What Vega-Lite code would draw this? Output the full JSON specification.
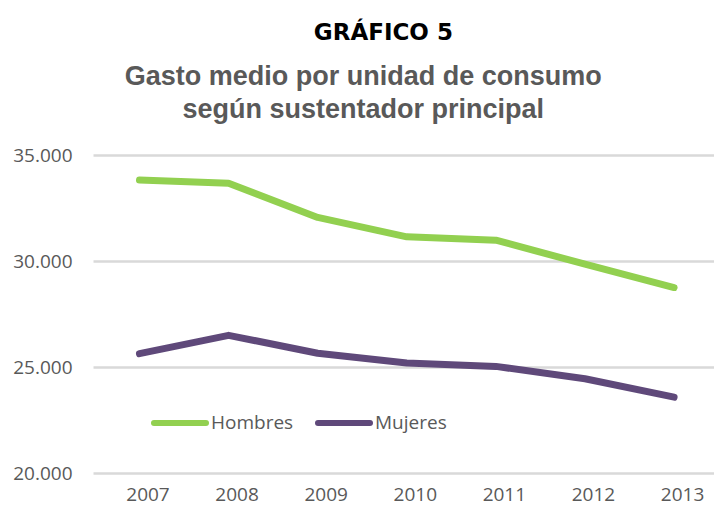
{
  "$schema": "https://vega.github.io/schema/vega-lite/v6.json",
  "padding": {"left": 12, "top": 22, "right": 0, "bottom": 0},
  "background": "white",
  "title": {
    "text": "GRÁFICO 5",
    "font": "DejaVu Sans",
    "fontSize": 23,
    "fontWeight": "bold",
    "color": "#000000",
    "anchor": "middle",
    "dx": 20,
    "offset": 18
  },
  "vconcat": [
    {
      "width": 621,
      "height": 318,
      "title": {
        "text": ["Gasto medio por unidad de consumo", "según sustentador principal"],
        "font": "Liberation Sans",
        "fontSize": 27,
        "fontWeight": "bold",
        "color": "#595959",
        "lineHeight": 33,
        "anchor": "middle",
        "frame": "bounds",
        "offset": 22
      },
      "data": {
        "values": [
          {"year": "2007", "serie": "Hombres", "gasto": 33818},
          {"year": "2008", "serie": "Hombres", "gasto": 33663},
          {"year": "2009", "serie": "Hombres", "gasto": 32056},
          {"year": "2010", "serie": "Hombres", "gasto": 31139},
          {"year": "2011", "serie": "Hombres", "gasto": 30983},
          {"year": "2012", "serie": "Hombres", "gasto": 29850},
          {"year": "2013", "serie": "Hombres", "gasto": 28748},
          {"year": "2007", "serie": "Mujeres", "gasto": 25628},
          {"year": "2008", "serie": "Mujeres", "gasto": 26493},
          {"year": "2009", "serie": "Mujeres", "gasto": 25650},
          {"year": "2010", "serie": "Mujeres", "gasto": 25184},
          {"year": "2011", "serie": "Mujeres", "gasto": 25028},
          {"year": "2012", "serie": "Mujeres", "gasto": 24447},
          {"year": "2013", "serie": "Mujeres", "gasto": 23577}
        ]
      },
      "mark": {"type": "line", "strokeWidth": 7, "strokeCap": "round", "strokeJoin": "round"},
      "encoding": {
        "x": {
          "field": "year",
          "type": "ordinal",
          "scale": {"type": "point", "padding": 0.485, "align": 0.538},
          "axis": {
            "title": null,
            "labelAngle": 0,
            "domain": false,
            "ticks": false,
            "grid": false,
            "labelPadding": 12,
            "labelOffset": 8,
            "labelFont": "Open Sans",
            "labelFontSize": 19,
            "labelColor": "#595959"
          }
        },
        "y": {
          "field": "gasto",
          "type": "quantitative",
          "scale": {"domain": [20000, 35000], "nice": false, "zero": false},
          "axis": {
            "title": null,
            "values": [20000, 25000, 30000, 35000],
            "labelExpr": "replace(format(datum.value, ',d'), ',', '.')",
            "domain": false,
            "ticks": false,
            "grid": true,
            "gridColor": "#D9D9D9",
            "gridWidth": 2.5,
            "labelPadding": 21,
            "labelFont": "Open Sans",
            "labelFontSize": 19,
            "labelColor": "#595959"
          }
        },
        "color": {
          "field": "serie",
          "type": "nominal",
          "scale": {"domain": ["Hombres", "Mujeres"], "range": ["#92D050", "#5F497A"]},
          "legend": {
            "title": null,
            "orient": "none",
            "direction": "horizontal",
            "legendX": 58,
            "legendY": 239,
            "symbolType": "stroke",
            "symbolSize": 2704,
            "symbolStrokeWidth": 6,
            "labelOffset": 2,
            "columnPadding": 12,
            "padding": 0,
            "labelFont": "Open Sans",
            "labelFontSize": 19,
            "labelColor": "#595959",
            "encode": {"symbols": {"update": {"strokeCap": {"value": "round"}}}}
          }
        }
      }
    }
  ],
  "config": {
    "view": {"stroke": null}
  }
}
